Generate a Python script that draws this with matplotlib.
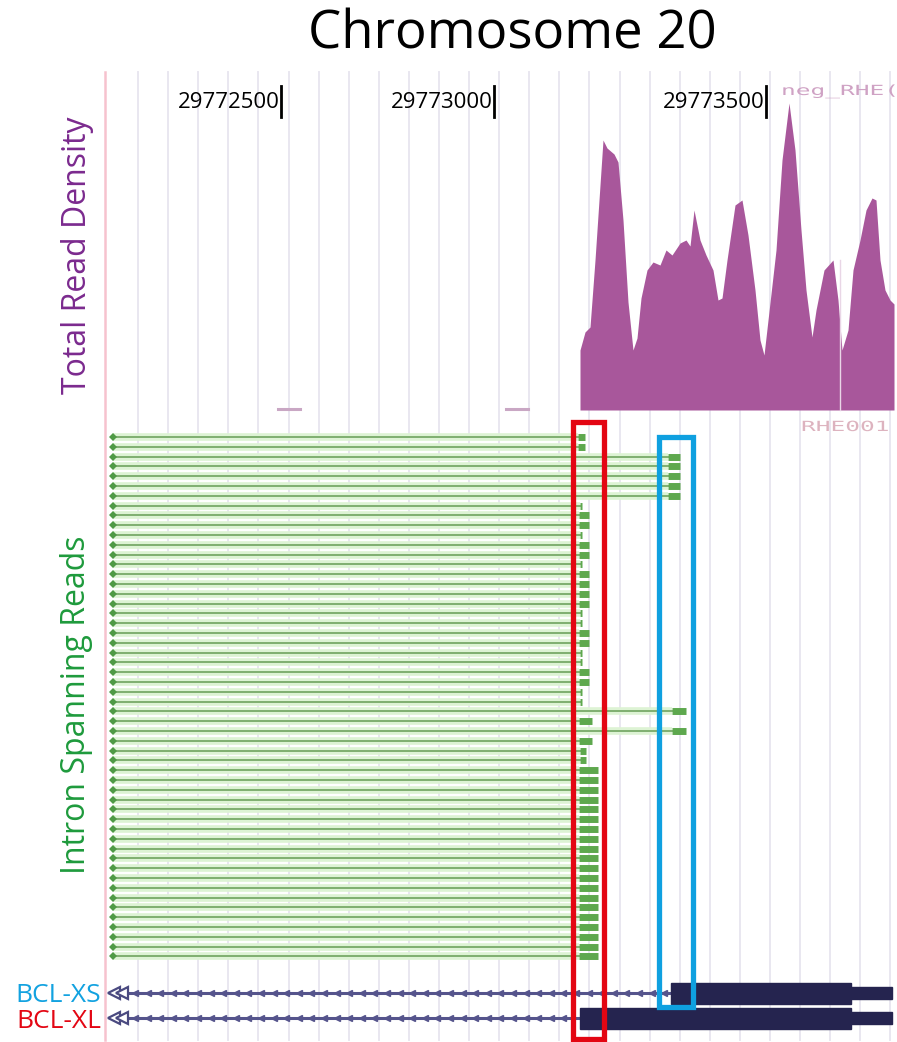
"""Chromosome 20 BCL-X 영역: 전체 read density와 intron spanning reads, 전사체 모델."""

import matplotlib

matplotlib.use("Agg")
import matplotlib.pyplot as plt
from matplotlib.font_manager import FontProperties
from matplotlib.patches import PathPatch, Rectangle
from matplotlib.text import TextPath
from matplotlib.transforms import Affine2D
import numpy as np

plt.rcParams["font.family"] = ["Open Sans", "DejaVu Sans"]

# 트랙 좌표는 브라우저 화면 열(column) 단위다.
TITLE = "Chromosome 20"
tick_positions = [281, 494, 766]
tick_labels = ["29772500", "29773000", "29773500"]

# Total read density (coverage) 윤곽: 위치와 깊이(기준선 위 높이)
density_pos = [580, 580, 585, 590, 595, 603, 607, 614, 618, 623, 628, 633, 637, 641, 647,
               653, 660, 666, 672, 680, 686, 690, 694, 700, 706, 713, 718, 722, 727, 735,
               742, 748, 755, 760, 764, 768, 776, 782, 789, 795, 801, 806, 812, 816, 824,
               833, 838, 842, 848, 853, 860, 866, 872, 876, 880, 885, 890, 894, 894]
density_depth = [0, 60, 78, 83, 150, 270, 262, 256, 248, 190, 108, 60, 72, 112, 140,
                 148, 145, 160, 155, 167, 170, 164, 200, 170, 155, 140, 110, 112, 150, 205,
                 210, 175, 120, 70, 55, 90, 160, 250, 307, 260, 180, 120, 73, 100, 140,
                 150, 110, 60, 80, 140, 170, 200, 212, 210, 150, 120, 110, 106, 0]

# Intron spanning reads: 오른쪽 exon 블록 시작·끝 위치 (위에서부터 54개)
read_block_start = [578, 578, 668, 668, 668, 668, 668, 580, 579, 579,
                    580, 579, 579, 580, 579, 579, 579, 579, 580, 580,
                    579, 579, 580, 580, 579, 579, 580, 580, 672, 579,
                    672, 579, 580, 580, 579, 579, 579, 579, 579, 579,
                    579, 579, 579, 579, 579, 579, 579, 579, 579, 579,
                    579, 579, 579, 579]
read_end = [585, 585, 680, 680, 680, 680, 680, 582, 589, 589,
            582, 589, 589, 582, 589, 589, 589, 589, 582, 582,
            589, 589, 582, 582, 589, 589, 582, 582, 686, 592,
            686, 592, 586, 586, 598, 598, 598, 598, 598, 598,
            598, 598, 598, 598, 598, 598, 598, 598, 598, 598,
            598, 598, 598, 598]
READ_START = 113

# 전사체 모델: intron 시작, coding 블록 시작·끝, UTR 끝
isoforms = ["BCL-XS", "BCL-XL"]
isoform_intron_start = [125, 125]
isoform_cds_start = [671, 580]
isoform_cds_end = [851, 851]
isoform_utr_end = [892, 892]

PURPLE = "#7B2A8E"
GREEN = "#1E9A3C"
BLUE = "#12A2E0"
RED = "#E30613"
DENSITY_COLOR = "#A8579B"
NAVY = "#25244F"


def stretched_label(axis, text, x, y, size, xscale, color):
    """브라우저 트랙 라벨처럼 가로로 늘어난 고정폭 글자를 그린다 (y축은 뒤집혀 있음)."""
    path = TextPath((0, 0), text, size=size, prop=FontProperties(family="DejaVu Sans Mono"))
    path = Affine2D().scale(xscale, -1).translate(x, y).transform_path(path)
    axis.add_patch(PathPatch(path, color=color, lw=0, zorder=5))


fig = plt.figure(figsize=(8.97, 10.42), dpi=100)
ax = fig.add_axes([0, 0, 1, 1])
ax.set_xlim(0, 897)
ax.set_ylim(1042, 0)
ax.axis("off")

# 배경 격자와 왼쪽 경계선
for x in np.arange(138, 897, 30.1):
    ax.plot([x, x], [72, 1040], color="#E9E7F0", lw=1.4, zorder=0)
ax.plot([105, 105], [72, 1040], color="#F6C2CE", lw=1.8, zorder=1)

# 제목과 좌표 눈금
ax.text(512, 35, TITLE, ha="center", va="center", fontsize=38, color="black")
for pos, label in zip(tick_positions, tick_labels):
    ax.text(pos - 1, 103, label, ha="right", va="center", fontsize=16, color="black")
    ax.plot([pos, pos], [86, 117], color="black", lw=2)

# Density 트랙
baseline = 410
dens_top = [baseline - d for d in density_depth]
ax.fill_between(density_pos, baseline, dens_top, color=DENSITY_COLOR, lw=0, zorder=2)
ax.plot([840, 840], [260, baseline], color="#E9D6E6", lw=1, zorder=3)
stretched_label(ax, "neg_RHE(", 781, 95, 14, 1.75, "#CFA2C4")
stretched_label(ax, "RHE001", 801, 431, 14, 1.75, "#DDB3BF")
for x0, x1 in [(278, 300), (506, 528)]:
    ax.plot([x0, x1], [409, 409], color="#C9A7C4", lw=2.2)

# Intron spanning reads
row_y = 437 + 9.8 * np.arange(len(read_end))
for y, b0, b1 in zip(row_y, read_block_start, read_end):
    ax.plot([READ_START, b0], [y, y], color="#DDF3D4", lw=5.5, solid_capstyle="butt", zorder=2)
    ax.plot([READ_START, b0], [y, y], color="#7FAF70", lw=1.4, zorder=3)
    ax.plot([READ_START], [y], marker="D", ms=4, color="#4F9A45", mew=0, zorder=4)
    ax.plot([b0, b1], [y, y], color="#5EA84E", lw=5, solid_capstyle="butt", zorder=4)

# 전사체 모델
gene_y = [993, 1018]
for y, i0, c0, c1, u1 in zip(gene_y, isoform_intron_start, isoform_cds_start,
                             isoform_cds_end, isoform_utr_end):
    ax.plot([i0, c0], [y, y], color="#55548C", lw=2.2, zorder=3)
    chev = np.arange(i0 + 10, c0 - 5, 12.6)
    ax.plot(chev, [y] * len(chev), ls="none", marker="<", ms=4.5, color="#55548C", zorder=3)
    for dx in (0, 8):
        ax.plot([114 + dx], [y], marker="<", ms=9, mfc="white", mec="#4A4980", mew=1.6, zorder=4)
    ax.add_patch(Rectangle((c0, y - 10.5), c1 - c0, 21, color=NAVY, zorder=4))
    ax.add_patch(Rectangle((c1, y - 6), u1 - c1, 12, color=NAVY, zorder=4))

# 트랙 이름
ax.text(77, 255, "Total Read Density", rotation=90, ha="center", va="center",
        fontsize=23, color=PURPLE)
ax.text(77, 705, "Intron Spanning Reads", rotation=90, ha="center", va="center",
        fontsize=23, color=GREEN)
# 두 전사체 이름은 원본처럼 위아래로 바짝 붙여 둔다 (줄 높이 대신 글자 기준선 사용)
ax.text(101, 1002, isoforms[0], ha="right", va="baseline", fontsize=19, color=BLUE)
ax.text(101, 1028, isoforms[1], ha="right", va="baseline", fontsize=19, color=RED)

# 강조 상자: BCL-XL / BCL-XS splice site
ax.add_patch(Rectangle((573, 422), 31, 617, fill=False, ec=RED, lw=3.8, zorder=6))
ax.add_patch(Rectangle((659, 437), 34, 570, fill=False, ec="#0FA0E0", lw=3.8, zorder=6))

fig.savefig("out.png", dpi=100)
